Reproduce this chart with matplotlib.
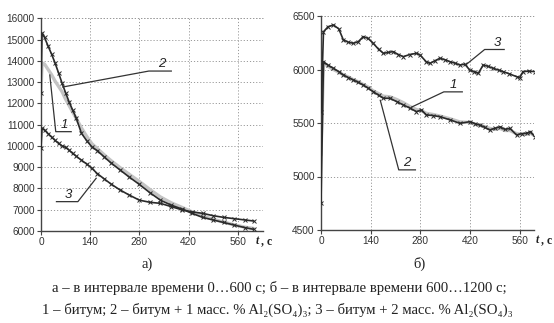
import matplotlib
matplotlib.use("Agg")
import matplotlib.pyplot as plt

# ---------------- data ----------------
t_a = [0, 3, 10, 20, 30, 40, 50, 60, 70, 80, 90, 100, 115, 130, 145, 160, 180, 200,
       225, 250, 280, 310, 340, 370, 400, 430, 460, 490, 520, 550, 580, 605]
a_curve1 = [12600, 13900, 13850, 13600, 13350, 13050, 12800, 12550, 12200, 11900, 11600, 11300,
            10850, 10450, 10100, 9880, 9580, 9300, 8980, 8680, 8330, 7950, 7600, 7330, 7120,
            6900, 6700, 6550, 6420, 6290, 6180, 6120]
a_curve2 = [12500, 15300, 15100, 14700, 14320, 13900, 13430, 12950, 12500, 12070, 11690, 11320,
            10600, 10250, 9950, 9780, 9480, 9190, 8870, 8550, 8190, 7800, 7450, 7220, 7040,
            6830, 6640, 6520, 6400, 6280, 6160, 6080]
a_curve3 = [9900, 10830, 10750, 10580, 10420, 10260, 10120, 10000, 9930, 9800, 9650, 9520,
            9330, 9150, 8950, 8700, 8450, 8200, 7930, 7700, 7450, 7350, 7300, 7150, 7000,
            6900, 6830, 6720, 6640, 6580, 6520, 6470]

t_b3 = [0, 7, 20, 35, 50, 63, 77, 91, 105, 119, 133, 147, 162, 176, 190, 203, 218, 232, 250, 269,
        279, 297, 307, 320, 335, 350, 363, 377, 391, 405, 419, 431, 443, 457, 470, 485, 500, 513,
        530, 551, 560, 569, 585, 602]
b_curve3 = [5600, 6353, 6400, 6416, 6380, 6276, 6255, 6245, 6260, 6307, 6290, 6245, 6190, 6151,
            6160, 6167, 6140, 6120, 6140, 6151, 6136, 6070, 6058, 6080, 6105, 6090, 6073, 6060,
            6042, 6050, 5995, 5980, 5964, 6042, 6030, 6011, 5995, 5980, 5960, 5933, 5925, 5980,
            5985, 5980]
t_b = [0, 7, 20, 35, 50, 63, 77, 91, 105, 119, 133, 147, 162, 176, 194, 213, 232, 250, 269, 283,
       297, 315, 335, 363, 391, 419, 433, 447, 461, 475, 490, 504, 518, 532, 551, 565, 579, 590, 602]
b_curve2 = [4750, 6073, 6040, 6011, 5980, 5949, 5925, 5902, 5880, 5855, 5825, 5793, 5760, 5731,
            5731, 5700, 5668, 5640, 5606, 5621, 5575, 5570, 5559, 5530, 5497, 5512, 5495, 5481,
            5460, 5435, 5450, 5465, 5440, 5450, 5388, 5400, 5404, 5420, 5372]
b_curve1 = [5200, 6060, 6030, 6000, 5975, 5950, 5930, 5905, 5885, 5860, 5835, 5800, 5775, 5750,
            5745, 5720, 5690, 5655, 5625, 5615, 5590, 5580, 5565, 5540, 5510, 5505, 5490, 5480,
            5465, 5450, 5440, 5450, 5430, 5430, 5400, 5395, 5395, 5405, 5380]

x_ticks = [0, 140, 280, 420, 560]
a_yticks = [6000, 7000, 8000, 9000, 10000, 11000, 12000, 13000, 14000, 15000, 16000]
b_yticks = [4500, 5000, 5500, 6000, 6500]

caption_a = "а)"
caption_b = "б)"
caption1 = "а – в интервале времени 0…600 с; б – в интервале времени 600…1200 с;"
caption2 = "1 – битум; 2 – битум + 1 масс. % Al₂(SO₄)₃; 3 – битум + 2 масс. % Al₂(SO₄)₃"

# ---------------- drawing ----------------
W, H = 554, 323
fig = plt.figure(figsize=(W / 100, H / 100), dpi=100)
fig.patch.set_facecolor("white")

dark = "#2a2a2a"
light = "#c4c4c4"
tick_font = dict(family=["Liberation Sans", "DejaVu Sans"], size=7.3)
serif = ["Liberation Serif", "DejaVu Serif"]


def px_rect(x0, x1, y_top, y_bot):
    return [x0 / W, 1 - y_bot / H, (x1 - x0) / W, (y_bot - y_top) / H]


def style(ax, xlim, ylim, yticks):
    ax.set_xlim(*xlim)
    ax.set_ylim(*ylim)
    ax.set_xticks(x_ticks)
    ax.set_yticks(yticks)
    ax.set_xticklabels([str(v) for v in x_ticks], **tick_font, color="#333")
    ax.set_yticklabels([str(v) for v in yticks], **tick_font, color="#333")
    for s in ["top", "right"]:
        ax.spines[s].set_visible(False)
    for s in ["left", "bottom"]:
        ax.spines[s].set_color("#444")
        ax.spines[s].set_linewidth(1.0)
    ax.tick_params(length=3, width=0.8, color="#444", pad=1.5)
    ax.grid(True, color="#9a9a9a", linestyle=(0, (1.2, 2)), linewidth=0.7)
    ax.set_axisbelow(True)
    ax.axhline(ylim[1], color="#9a9a9a", linestyle=(0, (1.2, 2)), linewidth=0.7, clip_on=False)
    ax.set_facecolor("none")


def leader(ax, pts, text, tpos):
    xs = [p[0] for p in pts]
    ys = [p[1] for p in pts]
    ax.plot(xs, ys, color="#333", lw=0.9, clip_on=False, zorder=5)
    ax.text(tpos[0], tpos[1], text, fontsize=9.5, style="italic",
            family=["Liberation Sans", "DejaVu Sans"], color="#222",
            ha="center", va="bottom", zorder=6)


# ---- left panel (a)
axA = fig.add_axes(px_rect(41, 263, 18.3, 231))
style(axA, (0, 632), (6000, 16000), a_yticks)
axA.plot(t_a, a_curve1, color=light, lw=2.4, zorder=2, solid_capstyle="round")
axA.plot(t_a, a_curve2, color=dark, lw=1.2, marker="x", ms=2.2, mew=0.7, zorder=3)
axA.plot(t_a, a_curve3, color=dark, lw=1.2, marker="x", ms=2.2, mew=0.7, zorder=3)
leader(axA, [(62, 12770), (307, 13520), (371, 13520)], "2", (343, 13560))
leader(axA, [(25, 13335), (42, 10670), (86, 10670)], "1", (67, 10700))
leader(axA, [(157, 8480), (105, 7380), (44, 7380)], "3", (77, 7420))
fig.text(256 / W, 1 - 241 / H, "t", style="italic", weight="bold", family=serif, fontsize=8.5,
         ha="left", va="center", color="#222")
fig.text(261 / W, 1 - 241 / H, ", с", weight="bold", family=serif, fontsize=8.5,
         ha="left", va="center", color="#222")

# ---- right panel (b)
axB = fig.add_axes(px_rect(321, 534, 16, 230))
style(axB, (0, 600), (4500, 6500), b_yticks)
axB.plot(t_b, b_curve1, color=light, lw=2.4, zorder=2, solid_capstyle="round")
axB.plot(t_b, b_curve2, color=dark, lw=1.2, marker="x", ms=2.2, mew=0.7, zorder=3)
axB.plot(t_b3, b_curve3, color=dark, lw=1.2, marker="x", ms=2.2, mew=0.7, zorder=3)
leader(axB, [(407, 6041), (461, 6187), (516, 6187)], "3", (497, 6195))
leader(axB, [(256, 5650), (346, 5791), (398, 5791)], "1", (374, 5798))
leader(axB, [(167, 5712), (219, 5062), (266, 5062)], "2", (242, 5070))
fig.text(536 / W, 1 - 240 / H, "t", style="italic", weight="bold", family=serif, fontsize=8.5,
         ha="left", va="center", color="#222")
fig.text(541 / W, 1 - 240 / H, ", с", weight="bold", family=serif, fontsize=8.5,
         ha="left", va="center", color="#222")

# ---- captions
fig.text(147 / W, 1 - 264 / H, caption_a, family=serif, fontsize=10.5, ha="center", va="center",
         color="#222")
fig.text(420 / W, 1 - 264 / H, caption_b, family=serif, fontsize=10.5, ha="center", va="center",
         color="#222")
fig.text(279 / W, 1 - 288 / H, caption1, family=serif, fontsize=10.6, ha="center", va="center",
         color="#222")
fig.text(277 / W, 1 - 310 / H, caption2, family=serif, fontsize=10.6, ha="center", va="center",
         color="#222")

fig.savefig("out.png", dpi=100, facecolor="white")
